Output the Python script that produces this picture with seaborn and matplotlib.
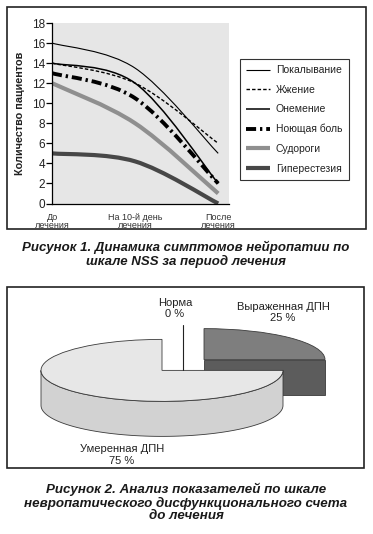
import numpy as np
import matplotlib
matplotlib.use("Agg")
import matplotlib.pyplot as plt
import seaborn as sns
from matplotlib.path import Path
from matplotlib.patches import PathPatch, Polygon, Wedge, Rectangle
from matplotlib.lines import Line2D
from matplotlib.transforms import Affine2D

# ---------------- data ----------------
periods = ["До\nлечения", "На 10-й день\nлечения", "После\nлечения"]
symptoms = ["Покалывание", "Жжение", "Онемение", "Ноющая боль", "Судороги", "Гиперестезия"]
pokalyvanie = [16, 13.5, 5]
zhzhenie = [14, 12, 6]
onemenie = [14, 12, 2]
noyushchaya_bol = [13, 10.5, 2]
sudorogi = [12, 8, 1]
giperestezia = [5, 4.2, 0]
y_ticks = [0, 2, 4, 6, 8, 10, 12, 14, 16, 18]

dpn_labels = ["Норма", "Выраженная ДПН", "Умеренная ДПН"]
dpn_shares = [0, 25, 75]

caption1 = "Рисунок 1. Динамика симптомов нейропатии по\nшкале NSS за период лечения"
caption2 = ("Рисунок 2. Анализ показателей по шкале\n"
            "невропатического дисфункционального счета\nдо лечения")

# ---------------- styles ----------------
series = [pokalyvanie, zhzhenie, onemenie, noyushchaya_bol, sudorogi, giperestezia]
line_styles = [
    dict(color="black", lw=0.8, ls="solid"),
    dict(color="black", lw=1.0, ls=(0, (2.5, 1.5))),
    dict(color="black", lw=1.1, ls="solid"),
    dict(color="black", lw=2.8, ls=(0, (2.6, 1.0, 0.6, 1.0))),
    dict(color="#8f8f8f", lw=3.0, ls="solid"),
    dict(color="#474747", lw=3.0, ls="solid"),
]
top_colors = ["#ffffff", "#7e7e7e", "#e7e7e7"]
side_colors = ["#ffffff", "#5c5c5c", "#d2d2d2"]

sns.set_theme(style="white")
plt.rcParams["font.family"] = ["Liberation Sans", "DejaVu Sans"]
plt.rcParams["text.color"] = "#222222"

W, H = 373, 534
fig = plt.figure(figsize=(W / 100, H / 100), dpi=100)
fig.patch.set_facecolor("white")

# overlay axes in pixel coordinates (frames + pie)
ov = fig.add_axes([0, 0, 1, 1])
ov.set_xlim(0, W)
ov.set_ylim(H, 0)
ov.axis("off")
ov.set_zorder(0)

# --------------- line chart ---------------
ax = fig.add_axes([52 / W, 1 - 203.5 / H, 177 / W, 180.5 / H])
ax.set_zorder(1)
ax.set_facecolor("#e6e6e6")
ax.set_xlim(0, 2.13)
ax.set_ylim(0, 18)


def smooth_path(xs, ys):
    P = np.column_stack([xs, ys]).astype(float)
    n = len(P)
    verts = [P[0]]
    codes = [Path.MOVETO]
    for i in range(n - 1):
        prev = P[i - 1] if i > 0 else P[i]
        nxt = P[i + 2] if i + 2 < n else P[i + 1]
        c1 = P[i] + (P[i + 1] - prev) / 6.0
        c2 = P[i + 1] - (nxt - P[i]) / 6.0
        verts += [c1, c2, P[i + 1]]
        codes += [Path.CURVE4] * 3
    return Path(verts, codes)


xs = np.arange(len(periods))
handles = []
for vals, st in zip(series, line_styles):
    patch = PathPatch(smooth_path(xs, vals), fill=False, edgecolor=st["color"],
                      lw=st["lw"], linestyle=st["ls"], capstyle="butt", joinstyle="round")
    ax.add_patch(patch)
    handles.append(Line2D([], [], color=st["color"], lw=st["lw"], linestyle=st["ls"],
                          solid_capstyle="butt", dash_capstyle="butt"))

sns.despine(ax=ax)
ax.spines["left"].set_color("black")
ax.spines["bottom"].set_color("black")
ax.spines["left"].set_linewidth(0.9)
ax.spines["bottom"].set_linewidth(0.9)
ax.set_xticks(xs)
ax.set_xticklabels(periods, fontsize=6.5, color="#333333", linespacing=0.95)
ax.set_yticks(y_ticks)
ax.set_yticklabels([str(v) for v in y_ticks], fontsize=8.5, color="#222222")
ax.tick_params(axis="x", direction="inout", length=7, width=0.9, color="black", pad=3)
ax.tick_params(axis="y", direction="out", length=4, width=0.9, color="black", pad=1,
               left=True)
ax.set_ylabel("Количество пациентов", fontsize=7.8, fontweight="bold", color="#222222")
ax.yaxis.set_label_coords(-27 / 177, 0.5)
ax.grid(False)

leg = ax.legend(handles, symptoms, loc="upper left",
                bbox_to_anchor=(240 / W, 1 - 59 / H), bbox_transform=fig.transFigure,
                frameon=True, fancybox=False, fontsize=7.5, handlelength=2.3,
                handletextpad=0.55, labelspacing=0.92, borderpad=0.6, borderaxespad=0)
leg.get_frame().set_edgecolor("black")
leg.get_frame().set_linewidth(0.8)
leg.get_frame().set_facecolor("white")
for t in leg.get_texts():
    t.set_color("#222222")

# frames
ov.add_patch(Rectangle((7, 7), 359, 222, fill=False, lw=1.2, ec="#222222"))
ov.add_patch(Rectangle((7, 287), 357, 181, fill=False, lw=1.2, ec="#222222"))

# captions
fig.text(186 / W, 1 - 254.5 / H, caption1, ha="center", va="center", fontsize=9.5,
         fontweight="bold", fontstyle="italic", color="#1a1a1a", linespacing=1.12)
fig.text(186 / W, 1 - 502.5 / H, caption2, ha="center", va="center", fontsize=9.6,
         fontweight="bold", fontstyle="italic", color="#1a1a1a", linespacing=1.05)

# --------------- 3D pie ---------------
cx0, cy0 = 183.0, 365.0
a, b, h = 121.0, 31.0, 35.0
explode = 29.7
edge = "#3a3a3a"


def pt(cx, cy, th, dz=0.0):
    r = np.deg2rad(th)
    return (cx + a * np.cos(r), cy - b * np.sin(r) + dz)


slices = []
cur = 90.0
for lab, share, tc, sc in zip(dpn_labels, dpn_shares, top_colors, side_colors):
    t2 = cur
    t1 = cur - 360.0 * share / 100.0
    cur = t1
    if share <= 0:
        continue
    m = np.deg2rad((t1 + t2) / 2)
    cx = cx0 + explode * np.cos(m)
    cy = cy0 - explode * (b / a) * np.sin(m)
    slices.append((cy, cx, t1, t2, tc, sc))

slices.sort(key=lambda s: s[0])
for cy, cx, t1, t2, tc, sc in slices:
    # radial faces
    for phi, visible in ((t1, np.cos(np.deg2rad(t1)) > 1e-6),
                         (t2, np.cos(np.deg2rad(t2)) < -1e-6)):
        if visible:
            p = pt(cx, cy, phi)
            poly = [(cx, cy), p, (p[0], p[1] + h), (cx, cy + h)]
            ov.add_patch(Polygon(poly, closed=True, fc=sc, ec=edge, lw=0.6))
    # outer wall (front half only)
    for k in range(-2, 2):
        lo = max(t1, 180 + 360 * k)
        hi = min(t2, 360 + 360 * k)
        if hi > lo:
            th = np.linspace(lo, hi, 80)
            top = [pt(cx, cy, t) for t in th]
            bot = [pt(cx, cy, t, h) for t in th[::-1]]
            ov.add_patch(Polygon(top + bot, closed=True, fc=sc, ec=edge, lw=0.6))
    # top face
    wdg = Wedge((0, 0), 1.0, t1, t2, fc=tc, ec=edge, lw=0.6,
                transform=Affine2D().scale(a, -b).translate(cx, cy) + ov.transData)
    ov.add_patch(wdg)

# labels
ov.plot([cx0, cx0], [325, cy0 + 5], color="#222222", lw=0.8)
ov.text(175, 308.5, f"{dpn_labels[0]}\n{dpn_shares[0]} %", ha="center", va="center",
        fontsize=8, linespacing=1.2)
ov.text(283, 312.5, f"{dpn_labels[1]}\n{dpn_shares[1]} %", ha="center", va="center",
        fontsize=8, linespacing=1.2)
ov.text(122, 455, f"{dpn_labels[2]}\n{dpn_shares[2]} %", ha="center", va="center",
        fontsize=8, linespacing=1.2)

fig.savefig("out.png", dpi=100)
